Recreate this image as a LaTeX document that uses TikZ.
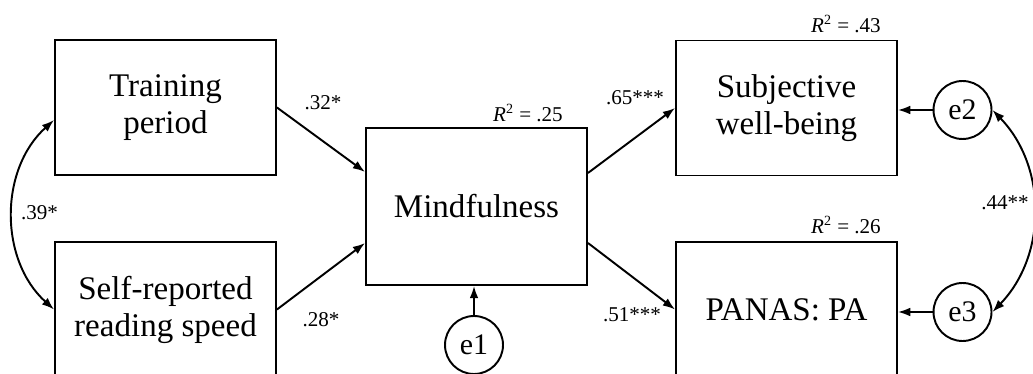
\documentclass[tikz,border=0pt]{standalone}
\usepackage{fontspec}
\setmainfont{Liberation Serif}
\usetikzlibrary{arrows.meta}

\begin{document}
\begin{tikzpicture}[x=0.02cm, y=-0.02cm,
    box/.style={draw, line width=1.1pt, minimum width=4.42cm, minimum height=2.7cm, align=center, font=\fontsize{18.8}{21}\selectfont},
    err/.style={draw, circle, line width=1.1pt, minimum size=1.16cm, inner sep=0pt, font=\fontsize{17}{20}\selectfont},
    coef/.style={font=\fontsize{12}{14}\selectfont},
    reg/.style={line width=1.1pt, -{Latex[length=7pt,width=5pt]}},
    cov/.style={line width=1.1pt, {Latex[length=7pt,width=5pt]}-{Latex[length=7pt,width=5pt]}}]
    % Rahmen (unten abgeschnitten wie im Original)
    \useasboundingbox (0,0) rectangle (1033,374);
    \clip (0,0) rectangle (1033,374);

    % Praediktoren
    \node[box] (train) at (165.5,107.5) {Training\\period};
    \node[box] (self) at (165.5,309.5) {Self-reported\\reading speed};

    % Mediator
    \node[box, minimum height=3.14cm] (mind) at (476.5,206.5) {Mindfulness};

    % Outcomes
    \node[box] (swb) at (786.5,108) {Subjective\\well-being};
    \node[box] (panas) at (786.5,309.5) {PANAS: PA};

    % Fehlerterme
    \node[err] (e1) at (474,345) {e1};
    \node[err] (e2) at (962.5,110) {e2};
    \node[err] (e3) at (962.5,312) {e3};

    % Pfade
    \draw[reg] (train.east) -- ([yshift=.69cm]mind.west);
    \draw[reg] (self.east) -- ([yshift=-.73cm]mind.west);
    \draw[reg] ([yshift=.67cm]mind.east) -- (swb.west);
    \draw[reg] ([yshift=-.73cm]mind.east) -- (panas.west);
    \draw[reg] (e1) -- (e1 |- mind.south);
    \draw[reg] (e2) -- (e2 -| swb.east);
    \draw[reg] (e3) -- (e3 -| panas.east);

    % Kovarianzen
    \draw[cov] ([yshift=-.25cm]train.west) to[bend right=48] (self.west);
    \draw[cov] (e2.east) to[bend left=44] (e3.east);

    % Koeffizienten
    \node[coef] (b1) at (323,103) {.32*};
    \node[coef] (b2) at (321,320) {.28*};
    \node[coef] (b3) at (635,98) {.65***};
    \node[coef] (b4) at (632,315) {.51***};
    \node[coef] (c1) at (39.5,213) {.39*};
    \node[coef] (c2) at (1005,203) {.44**};

    % R^2
    \node[coef] (rsq1) at (528,113) {\textit{R}\textsuperscript{2} = .25};
    \node[coef] (rsq2) at (846,24) {\textit{R}\textsuperscript{2} = .43};
    \node[coef] (rsq3) at (846,225) {\textit{R}\textsuperscript{2} = .26};
\end{tikzpicture}
\end{document}
